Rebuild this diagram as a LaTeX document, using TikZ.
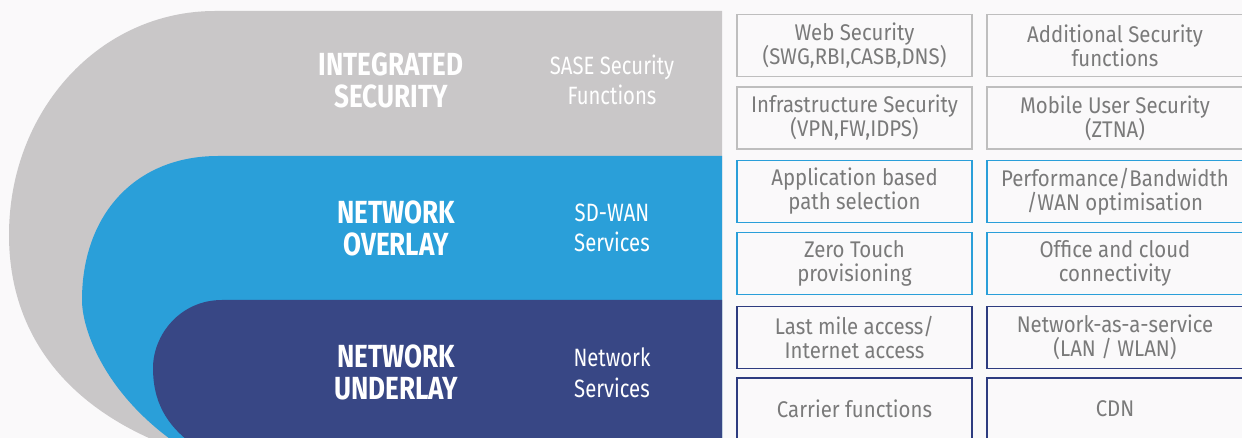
\documentclass[tikz,border=0pt]{standalone}
\usepackage{fontspec}
\setmainfont{Fira Sans}
\newfontfamily\condbold[FakeStretch=0.815]{Fira Sans}
\newfontfamily\condreg[FakeStretch=0.81]{Fira Sans}
\newfontfamily\boxfont[FakeStretch=0.9]{Fira Sans}
\definecolor{bg}{RGB}{250,249,250}
\definecolor{bandgray}{RGB}{201,199,200}
\definecolor{bandblue}{RGB}{42,159,217}
\definecolor{bandnavy}{RGB}{56,71,133}
\definecolor{edgegray}{RGB}{190,190,190}
\definecolor{edgeblue}{RGB}{42,159,217}
\definecolor{edgenavy}{RGB}{46,60,128}
\definecolor{boxtext}{RGB}{122,122,122}
\tikzset{
  bandtitle/.style={text=white, align=center, font=\condbold\bfseries\fontsize{24pt}{24pt}\selectfont, inner sep=0pt},
  bandsub/.style={text=white, align=center, font=\condreg\fontsize{18.8pt}{23pt}\selectfont, inner sep=0pt},
  fbox/.style={draw, line width=1.1pt, fill=bg, text=boxtext, align=center, inner sep=0pt,
    font=\boxfont\fontsize{17pt}{18pt}\selectfont, minimum height=46.5pt},
  lcol/.style={fbox, minimum width=176.25pt},
  rcol/.style={fbox, minimum width=192pt},
}
\begin{document}
\begin{tikzpicture}[x=0.75pt,y=-0.75pt]
\useasboundingbox (0,0) rectangle (1242,438);
\clip (0,0) rectangle (1242,438);
\fill[bg] (0,0) rectangle (1242,438);
% bands
\fill[bandgray] (722,11) -- (215,11) .. controls (100,11) and (9,110) .. (9,235)
  .. controls (9,330) and (62,405) .. (168,446) -- (722,446) -- cycle;
\fill[bandblue] (722,156) -- (218,156) .. controls (135,156) and (82,215) .. (82,300)
  .. controls (82,330) and (105,395) .. (180,446) -- (722,446) -- cycle;
\fill[bandnavy] (722,300) -- (222,300) .. controls (180,300) and (153,335) .. (153,368)
  .. controls (153,400) and (165,425) .. (195,446) -- (722,446) -- cycle;
% band labels
\node[bandtitle] (t1) at (391,80) {INTEGRATED\\SECURITY};
\node[bandtitle] (t2) at (396,228) {NETWORK\\OVERLAY};
\node[bandtitle] (t3) at (396,372.5) {NETWORK\\UNDERLAY};
\node[bandsub] (s1) at (612,80) {SASE Security\\Functions};
\node[bandsub] (s2) at (612,228) {SD-WAN\\Services};
\node[bandsub] (s3) at (612,372.5) {Network\\Services};
% boxes
\node[lcol, draw=edgegray] (b11) at (854.5,45.5) {Web Security\\(SWG,RBI,CASB,DNS)};
\node[rcol, draw=edgegray] (b12) at (1115,45.5) {Additional Security\\functions};
\node[lcol, draw=edgegray] (b21) at (854.5,118) {Infrastructure Security\\(VPN,FW,IDPS)};
\node[rcol, draw=edgegray] (b22) at (1115,118) {Mobile User Security\\(ZTNA)};
\node[lcol, draw=edgeblue] (b31) at (854.5,191.5) {Application based\\path selection};
\node[rcol, draw=edgeblue] (b32) at (1115,191.5) {Performance/Bandwidth\\/WAN optimisation};
\node[lcol, draw=edgeblue] (b41) at (854.5,263.5) {Zero Touch\\provisioning};
\node[rcol, draw=edgeblue] (b42) at (1115,263.5) {Office and cloud\\connectivity};
\node[lcol, draw=edgenavy] (b51) at (854.5,337.5) {Last mile access/\\Internet access};
\node[rcol, draw=edgenavy] (b52) at (1115,337.5) {Network-as-a-service\\(LAN / WLAN)};
\node[lcol, draw=edgenavy] (b61) at (854.5,409) {Carrier functions};
\node[rcol, draw=edgenavy] (b62) at (1115,409) {CDN};
\end{tikzpicture}
\end{document}
